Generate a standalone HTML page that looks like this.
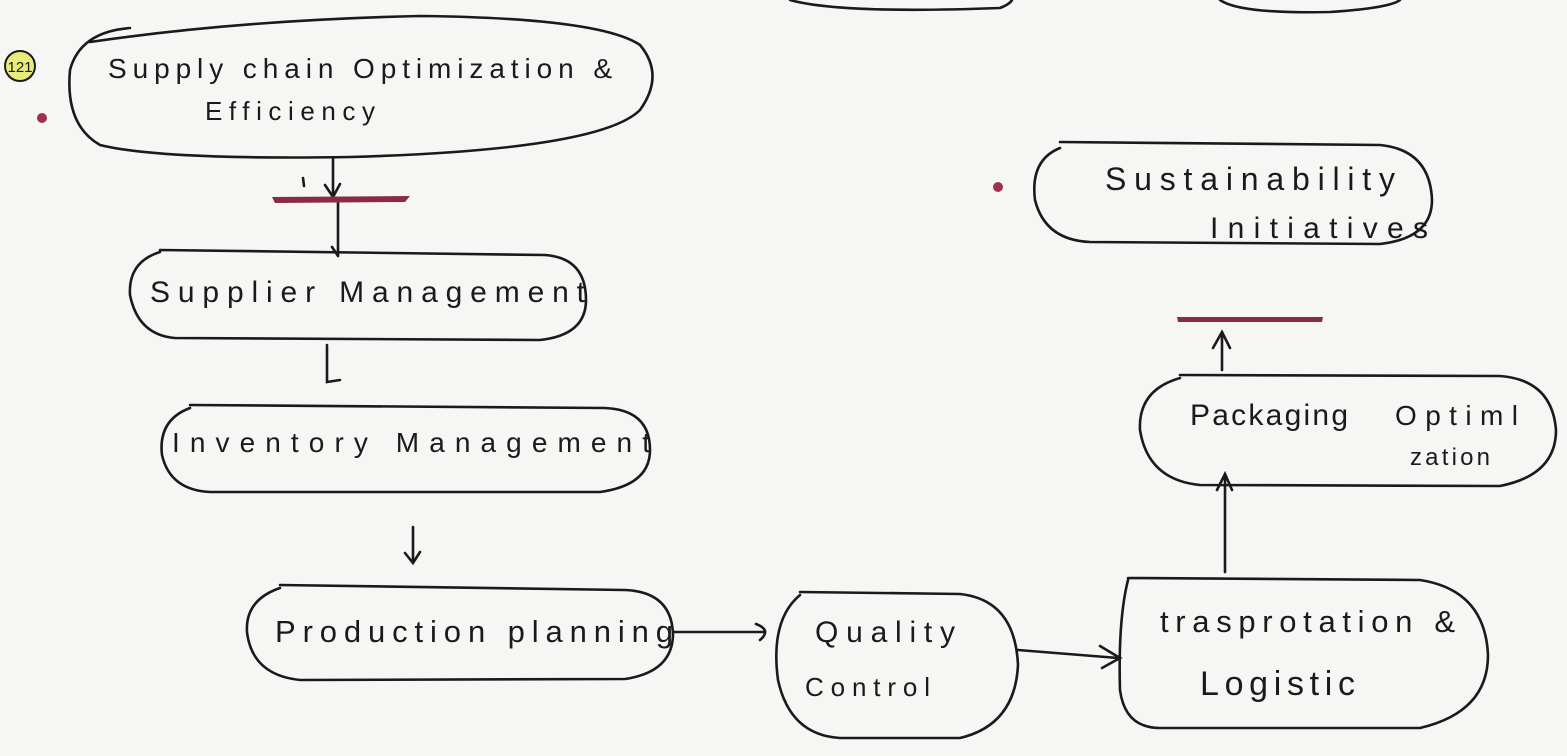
<!DOCTYPE html>
<html><head><meta charset="utf-8"><style>
html,body{margin:0;padding:0;background:#f6f6f4;}
svg{display:block}
text{font-family:"Liberation Sans",sans-serif;fill:#1a1a1a;}
</style></head><body>
<svg width="1567" height="756" viewBox="0 0 1567 756" xmlns="http://www.w3.org/2000/svg">
<rect width="1567" height="756" fill="#f6f6f4"/>
<g fill="none" stroke="#1a1a1a" stroke-width="2.6" stroke-linecap="round">
<path d="M790 0 Q840 14 1000 8 Q1010 4 1012 0"/>
<path d="M1220 0 Q1240 14 1330 12 Q1390 8 1400 0"/>
<path d="M130 28 Q80 32 70 70 Q65 125 100 145 Q160 160 350 157 Q600 150 640 110 Q665 75 640 45 Q600 18 420 16 Q240 20 90 42"/>
<path d="M160 252 Q128 262 130 295 Q138 335 175 338 L540 340 Q586 335 586 300 Q586 258 545 255 L160 250"/>
<path d="M190 408 Q158 420 162 455 Q170 490 210 492 L600 492 Q650 485 650 450 Q650 410 605 408 L190 405"/>
<path d="M280 588 Q245 600 247 632 Q252 675 300 680 L625 679 Q672 672 673 635 Q672 592 625 590 L280 585"/>
<path d="M800 595 Q770 620 778 680 Q790 735 840 738 L960 738 Q1015 725 1018 665 Q1015 600 960 594 L800 592"/>
<path d="M1128 580 Q1118 620 1120 690 Q1125 728 1160 728 L1420 728 Q1488 712 1488 655 Q1485 590 1420 580 L1128 578"/>
<path d="M1180 378 Q1138 390 1140 430 Q1148 480 1200 485 L1500 486 Q1556 475 1556 430 Q1552 380 1500 376 L1180 375"/>
<path d="M1060 148 Q1030 160 1035 200 Q1045 240 1090 242 L1380 244 Q1432 238 1432 200 Q1430 150 1380 145 L1060 142"/>
<path d="M333 158 L333 196 M325 185 L333 197 L340 184"/>
<path d="M303 178 L304 186"/>
<path d="M338 202 L338 256 M332 247 L338 256"/>
<path d="M327 345 L327 382 L340 380"/>
<path d="M413 527 L413 562 M405 553 L413 563 L420 552"/>
<path d="M673 632 L765 632 M756 624 Q772 630 760 640"/>
<path d="M1018 650 L1118 658 M1100 646 L1120 658 L1102 668"/>
<path d="M1225 572 L1225 476 M1217 490 L1225 474 L1232 490"/>
<path d="M1222 370 L1222 333 M1213 348 L1222 332 L1230 348"/>
</g>
<path d="M272 197 L410 196 L405 202 L275 203 Z" fill="#8a2a44"/>
<path d="M1177 317 L1323 317 L1322 322 L1178 322 Z" fill="#8a2a44"/>
<circle cx="42" cy="118" r="5" fill="#a03050"/>
<circle cx="998" cy="187" r="5" fill="#a03050"/>
<circle cx="20" cy="66" r="15" fill="#e6eb7a" stroke="#1a1a1a" stroke-width="2"/>
<text x="20" y="72" font-size="15" text-anchor="middle">121</text>
<text x="108" y="78" font-size="28" textLength="504" lengthAdjust="spacing">Supply  chain Optimization &amp;</text>
<text x="205" y="120" font-size="26" textLength="170" lengthAdjust="spacing">Efficiency</text>
<text x="150" y="302" font-size="30" textLength="435" lengthAdjust="spacing">Supplier  Management</text>
<text x="172" y="452" font-size="28" textLength="478" lengthAdjust="spacing">Inventory  Management</text>
<text x="275" y="642" font-size="31" textLength="398" lengthAdjust="spacing">Production  planning</text>
<text x="815" y="642" font-size="30" textLength="140" lengthAdjust="spacing">Quality</text>
<text x="805" y="696" font-size="26" textLength="125" lengthAdjust="spacing">Control</text>
<text x="1160" y="632" font-size="31" textLength="295" lengthAdjust="spacing">trasprotation &amp;</text>
<text x="1200" y="695" font-size="34" textLength="155" lengthAdjust="spacing">Logistic</text>
<text x="1190" y="425" font-size="30" textLength="158" lengthAdjust="spacing">Packaging</text>
<text x="1395" y="425" font-size="28" textLength="123" lengthAdjust="spacing">Optiml</text>
<text x="1410" y="465" font-size="24" textLength="80" lengthAdjust="spacing">zation</text>
<text x="1105" y="190" font-size="32" textLength="290" lengthAdjust="spacing">Sustainability</text>
<text x="1210" y="238" font-size="30" textLength="218" lengthAdjust="spacing">Initiatives</text>
</svg>
</body></html>
